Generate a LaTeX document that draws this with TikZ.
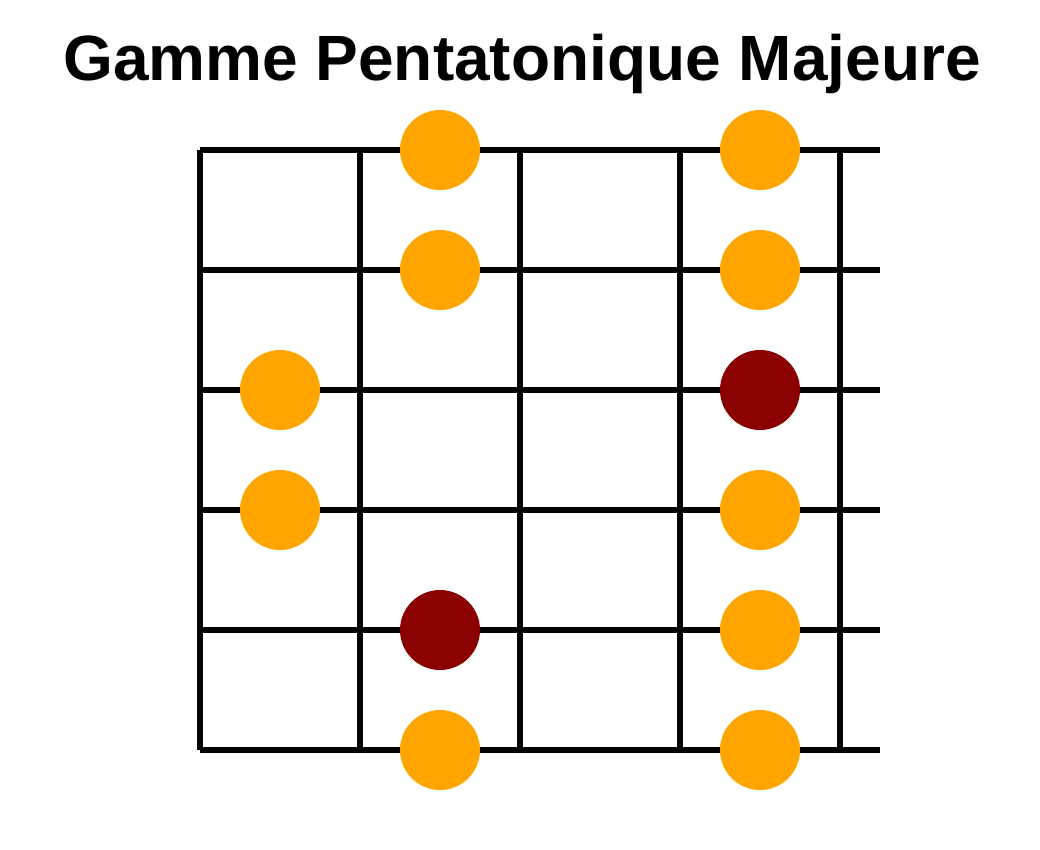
\documentclass[tikz,border=0pt]{standalone}
\usepackage{fontspec}
\setmainfont{Liberation Sans}
\begin{document}
\begin{tikzpicture}[x=1pt,y=-1pt]
\definecolor{dotorange}{HTML}{FFA500}
\definecolor{rootred}{HTML}{8B0000}
\tikzset{
  gridline/.style={line width=5.5pt,black},
  dot/.style={circle,minimum size=80pt,inner sep=0pt,fill=dotorange},
  root/.style={circle,minimum size=80pt,inner sep=0pt,fill=rootred}}
\useasboundingbox[fill=white] (0,0) rectangle (1040,850);
\node[anchor=base,font=\bfseries\fontsize{64}{70}\selectfont] (title) at (522,81) {Gamme Pentatonique Majeure};
\foreach \y in {150,270,390,510,630,750} \draw[gridline] (200,\y) -- (880,\y);
\foreach \x in {200,360,520,680,840} \draw[gridline] (\x,150) -- (\x,750);
\node[dot] (d1) at (440,150) {};
\node[dot] (d2) at (760,150) {};
\node[dot] (d3) at (440,270) {};
\node[dot] (d4) at (760,270) {};
\node[dot] (d5) at (280,390) {};
\node[root] (d6) at (760,390) {};
\node[dot] (d7) at (280,510) {};
\node[dot] (d8) at (760,510) {};
\node[root] (d9) at (440,630) {};
\node[dot] (d10) at (760,630) {};
\node[dot] (d11) at (440,750) {};
\node[dot] (d12) at (760,750) {};
\end{tikzpicture}
\end{document}
